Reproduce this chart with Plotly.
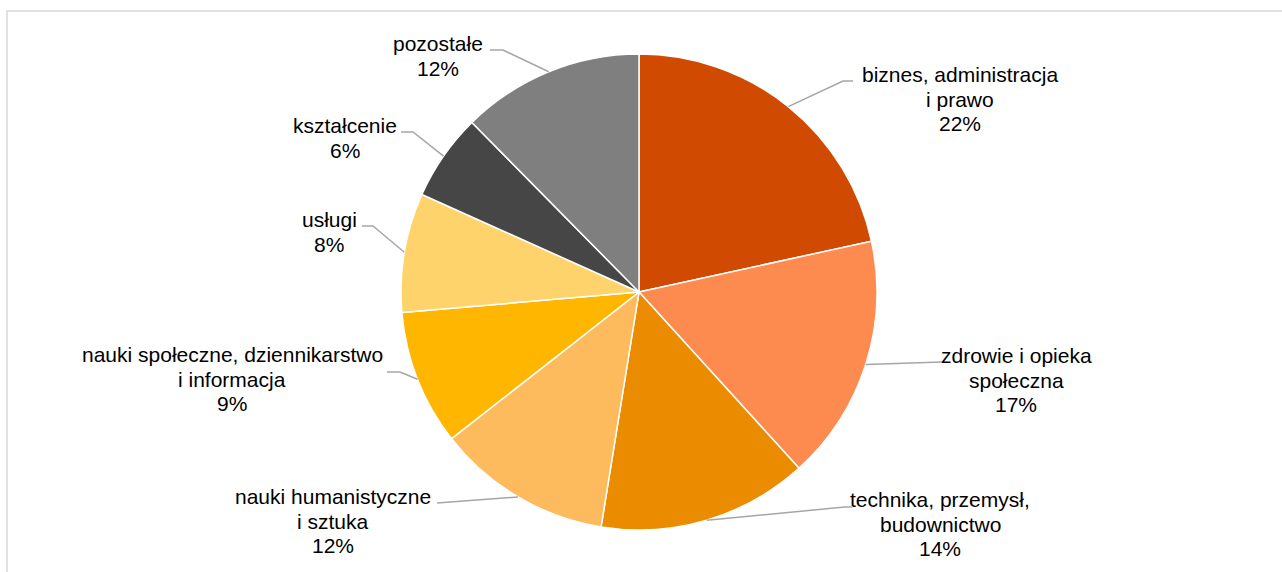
import math
import plotly.graph_objects as go

W, H = 1282, 572

categories = [
    "biznes, administracja<br>i prawo",
    "zdrowie i opieka<br>społeczna",
    "technika, przemysł,<br>budownictwo",
    "nauki humanistyczne<br>i sztuka",
    "nauki społeczne, dziennikarstwo<br>i informacja",
    "usługi",
    "kształcenie",
    "pozostałe",
]
values = [21.6, 16.7, 14.3, 11.9, 9.2, 8.1, 5.9, 12.4]
colors = ["#D04A02", "#FD8B50", "#EB8C00", "#FDBB5D", "#FFB600", "#FFD36B", "#464646", "#7F7F7F"]

# label placement (pixel) : centre of text block, and leader elbow points
label_pos = [(960, 99), (1016, 380), (940, 524), (333, 521), (232, 379), (329, 232), (345, 138), (438, 56)]
elbows = [
    [(843, 81), (853, 81)],
    [(942, 362)],
    [(845, 507), (852, 507)],
    [(437, 503)],
    [(400, 372), (387, 372)],
    [(373, 226), (362, 226)],
    [(413, 132), (401, 132)],
    [(503, 50), (490, 50)],
]
LINE_H = 24.5

cx, cy, R = 639, 292, 238
dom_x = [(cx - R) / W, (cx + R) / W]
dom_y = [1 - (cy + R) / H, 1 - (cy - R) / H]

fig = go.Figure(go.Pie(
    labels=categories, values=values, sort=False, direction="clockwise", rotation=0,
    marker=dict(colors=colors, line=dict(color="white", width=1.5)),
    textinfo="none", hoverinfo="label+percent", showlegend=False,
    domain=dict(x=dom_x, y=dom_y),
))

total = sum(values)
cum = 0
shapes = []
annotations = []
for i, v in enumerate(values):
    mid = (cum + v / 2) / total * 2 * math.pi
    cum += v
    px, py = cx + R * math.sin(mid), cy - R * math.cos(mid)
    pts = [(px, py)] + elbows[i]
    path = "M " + " L ".join(f"{x / W},{1 - y / H}" for x, y in pts)
    shapes.append(dict(type="path", xref="paper", yref="paper", path=path,
                       line=dict(color="#A6A6A6", width=1.5)))
    pct = round(v / total * 100)
    lines = categories[i].split("<br>") + [f"{pct}%"]
    lx, ly = label_pos[i]
    n = len(lines)
    for k, t in enumerate(lines):
        yy = ly + (k - (n - 1) / 2) * LINE_H
        annotations.append(dict(
            x=lx / W, y=1 - yy / H, xref="paper", yref="paper", showarrow=False,
            xanchor="center", yanchor="middle", align="center", text=t,
            font=dict(family="Liberation Sans, Arial, sans-serif", size=21, color="#000000"),
        ))

# chart frame
shapes.append(dict(type="path", xref="paper", yref="paper",
                   path=f"M {7 / W},-0.05 L {7 / W},{1 - 11 / H} L 1.05,{1 - 11 / H}",
                   line=dict(color="#D9D9D9", width=1.5)))

fig.update_layout(
    width=W, height=H, margin=dict(l=0, r=0, t=0, b=0),
    paper_bgcolor="white", plot_bgcolor="white",
    shapes=shapes, annotations=annotations,
)
fig.write_html(
    "out.html",
    config={"displayModeBar": False},
    post_script="document.body.style.margin='0';document.body.style.overflow='hidden';",
)
